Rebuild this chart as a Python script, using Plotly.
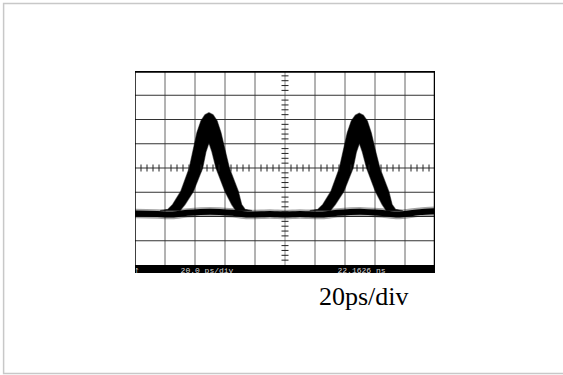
import plotly.graph_objects as go

# ---- data (time in ps, amplitude in divisions) ----
# outline of each pulse band: outer edge (left -> peak -> right), then inner edge (right -> apex -> left)
pulse1_t = [16.7, 22.0, 25.1, 30.5, 36.2, 38.7, 41.3, 44.0, 46.7, 49.3, 52.0, 54.7, 57.3, 60.0, 62.9, 68.9, 71.1, 73.3, 78.0,
            67.3, 64.5, 60.0, 54.0, 51.3, 49.3, 47.3, 45.1, 38.9, 33.3, 30.0]
pulse1_v = [-1.76, -1.70, -1.51, -0.965, 0.0, 0.75, 1.46, 1.95, 2.20, 2.28, 2.20, 1.95, 1.46, 0.75, 0.0, -0.965, -1.51, -1.70, -1.76,
            -1.76, -1.51, -0.965, 0.0, 0.67, 1.04, 0.67, 0.0, -0.965, -1.51, -1.76]

pulse2_t = [116.5, 122.0, 125.2, 130.6, 136.3, 138.9, 141.5, 144.2, 146.9, 149.5, 152.2, 154.9, 157.5, 160.2, 163.2, 169.2, 171.4, 173.6, 178.5,
            167.6, 164.8, 160.3, 154.4, 151.6, 149.6, 147.6, 145.4, 139.2, 133.5, 130.2]
pulse2_v = [-1.76, -1.70, -1.51, -0.965, 0.0, 0.74, 1.45, 1.94, 2.18, 2.26, 2.18, 1.94, 1.45, 0.74, 0.0, -0.965, -1.51, -1.70, -1.76,
            -1.76, -1.51, -0.965, 0.0, 0.66, 1.02, 0.66, 0.0, -0.965, -1.51, -1.76]

base_t = [0, 15, 25, 35, 50, 65, 75, 90, 100, 110, 125, 135, 150, 165, 175, 190, 200]
base_v = [-1.88, -1.90, -1.92, -1.85, -1.80, -1.85, -1.92, -1.90, -1.92, -1.90, -1.92, -1.85, -1.80, -1.86, -1.92, -1.82, -1.78]

x_ticks_t = [i * 20 for i in range(11)]          # 20 ps/div, 10 divisions
y_ticks_v = [-4, -3, -2, -1, 0, 1, 2, 3, 4]       # 8 vertical divisions

status_left = "20.0 ps/div"
status_right = "22.1626 ns"
caption = "20ps/div"

X0, X1 = 0, 200
Y0, Y1 = -4.33, 4

fig = go.Figure()

# baseline ("zero") trace: soft halo + core
fig.add_trace(go.Scatter(x=base_t, y=base_v, mode="lines", hoverinfo="skip",
                         line=dict(color="rgba(0,0,0,0.35)", width=9.5, shape="spline", smoothing=0.6)))
fig.add_trace(go.Scatter(x=base_t, y=base_v, mode="lines", hoverinfo="skip",
                         line=dict(color="black", width=6, shape="spline", smoothing=0.6)))

# pulse ("one") bands as filled outlines
for t, v in [(pulse1_t, pulse1_v), (pulse2_t, pulse2_v)]:
    fig.add_trace(go.Scatter(x=t, y=v, mode="lines", fill="toself", fillcolor="black", hoverinfo="skip",
                             line=dict(color="rgba(0,0,0,0.55)", width=1.2, shape="linear")))

# minor ticks on centre cross
minor_x = [i * 4 for i in range(51) if i % 5 != 0]
minor_y = [round(-4 + i * 0.2, 2) for i in range(41) if i % 5 != 0]
fig.add_trace(go.Scatter(x=minor_x, y=[0] * len(minor_x), mode="markers", hoverinfo="skip",
                         marker=dict(symbol="line-ns", size=5, line=dict(color="#222", width=1))))
fig.add_trace(go.Scatter(x=[100] * len(minor_y), y=minor_y, mode="markers", hoverinfo="skip",
                         marker=dict(symbol="line-ew", size=5, line=dict(color="#222", width=1))))

# tiny dots above the frame
fig.add_trace(go.Scatter(x=[44.5, 155.5], y=[4.26, 4.26], mode="markers", cliponaxis=False, hoverinfo="skip",
                         marker=dict(size=2, color="#999")))

# status-bar texts (clipped by the plot area like on the scope screen)
fig.add_trace(go.Scatter(x=[48, 151], y=[-4.26, -4.26], mode="text", text=[status_left, status_right],
                         textposition="middle center", cliponaxis=True, hoverinfo="skip",
                         textfont=dict(family="Liberation Mono, DejaVu Sans Mono, monospace", size=8, color="#d8d8d8")))
fig.add_trace(go.Scatter(x=[3.5], y=[-4.24], mode="text", text=["↑‗‗"], textposition="middle center",
                         cliponaxis=True, hoverinfo="skip",
                         textfont=dict(family="DejaVu Sans", size=7, color="#d8d8d8")))

shapes = []
# grid lines
for xv in x_ticks_t[1:-1]:
    shapes.append(dict(type="line", xref="x", yref="y", x0=xv, x1=xv, y0=-4, y1=4,
                       line=dict(color="#666" if xv != 100 else "#888", width=1), layer="below"))
for yv in y_ticks_v[1:-1]:
    shapes.append(dict(type="line", xref="x", yref="y", x0=X0, x1=X1, y0=yv, y1=yv,
                       line=dict(color="#333", width=1), layer="below"))
# status band
shapes.append(dict(type="rect", xref="x", yref="y", x0=X0, x1=X1, y0=Y0, y1=-4,
                   fillcolor="black", line=dict(width=0), layer="below"))
# frame
shapes.append(dict(type="line", xref="x", yref="y", x0=X0, x1=X1, y0=4, y1=4, line=dict(color="black", width=3.5)))
shapes.append(dict(type="line", xref="x", yref="y", x0=X0, x1=X0, y0=Y0, y1=4, line=dict(color="black", width=1.5)))
shapes.append(dict(type="line", xref="x", yref="y", x0=X1, x1=X1, y0=Y0, y1=4, line=dict(color="black", width=2.5)))
# outer light border of the picture
shapes.append(dict(type="rect", xref="paper", yref="paper", x0=-0.438, x1=1.43, y0=-0.4975, y1=1.334,
                   line=dict(color="#c8c8c8", width=1.5), fillcolor="rgba(0,0,0,0)", layer="below"))

annotations = [
    dict(x=0.7617, y=-0.118, xref="paper", yref="paper", text=caption, showarrow=False,
         xanchor="center", yanchor="middle",
         font=dict(family="Liberation Serif, Times New Roman, serif", size=26, color="black")),
]

fig.update_layout(
    width=563, height=375,
    margin=dict(l=135, r=128, t=71, b=102),
    paper_bgcolor="white", plot_bgcolor="white",
    showlegend=False, hovermode=False,
    shapes=shapes, annotations=annotations,
    xaxis=dict(range=[X0, X1], showgrid=False, zeroline=False, showticklabels=False, showline=False, ticks="", fixedrange=True),
    yaxis=dict(range=[Y0, Y1], showgrid=False, zeroline=False, showticklabels=False, showline=False, ticks="", fixedrange=True),
)

fig.write_html("out.html")
